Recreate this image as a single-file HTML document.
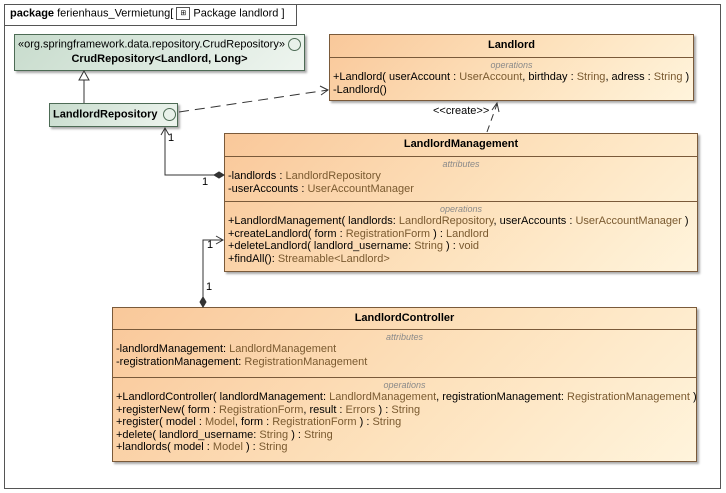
<!DOCTYPE html>
<html><head><style>
body{margin:0;width:726px;height:493px;background:#fff;font-family:"Liberation Sans",sans-serif;font-size:11px;color:#000;position:relative;overflow:hidden}
.abs{position:absolute;box-sizing:border-box}
.cls{background:linear-gradient(135deg,#f9c89a 0%,#fde2bd 55%,#fff4dc 100%);border:1px solid #7a5a3a;box-shadow:2px 2px 2px #aaa}
.grn{background:linear-gradient(135deg,#c8dccd,#eef5ef);border:1px solid #4d6b55;box-shadow:2px 2px 2px #aaa}
.hd{font-weight:bold;text-align:center}
.sec{border-top:1px solid #7a5a3a;padding:2px 3px 0 3px}
.lab{text-align:center;color:#8a8a8a;font-style:italic;font-size:9px;line-height:11px}
.r{line-height:12.6px;white-space:nowrap}
.t{color:#7a5a30}
.circ{display:inline-block;width:11px;height:11px;border:1px solid #4d6b55;border-radius:50%;vertical-align:middle;background:#e8f1ea}
</style></head><body>
<div class="abs" style="left:4px;top:4px;width:717px;height:485px;border:1px solid #555"></div>
<div class="abs" style="left:4px;top:4px;width:293px;height:22px;border:1px solid #555;border-top:none;border-left:none;padding:3px 0 0 6px;white-space:nowrap"><b>package</b> ferienhaus_Vermietung[ <span style="display:inline-block;width:12px;height:11px;border:1px solid #555;vertical-align:middle;font-size:7px;text-align:center;line-height:11px">⊞</span> Package landlord ]</div>

<div class="abs grn" style="left:14px;top:34px;width:291px;height:37px;padding-top:3px;text-align:center;white-space:nowrap">«org.springframework.data.repository.CrudRepository» <span class="circ"></span><br><b style="line-height:16px">CrudRepository&lt;Landlord, Long&gt;</b></div>
<div class="abs grn" style="left:49px;top:103px;width:129px;height:24px;padding:4px 0 0 3px;white-space:nowrap"><b>LandlordRepository</b> <span class="circ" style="margin-left:2px"></span></div>

<div class="abs cls" style="left:329px;top:34px;width:365px;height:67px">
<div class="hd" style="height:22px;line-height:20px">Landlord</div>
<div class="sec"><div class="lab">operations</div>
<div class="r">+Landlord( userAccount : <span class="t">UserAccount</span>, birthday : <span class="t">String</span>, adress : <span class="t">String</span> )</div>
<div class="r">-Landlord()</div></div></div>

<div class="abs cls" style="left:224px;top:133px;width:474px;height:139px">
<div class="hd" style="height:22px;line-height:20px">LandlordManagement</div>
<div class="sec" style="height:42px"><div class="lab">attributes</div>
<div class="r">-landlords : <span class="t">LandlordRepository</span></div>
<div class="r">-userAccounts : <span class="t">UserAccountManager</span></div></div>
<div class="sec"><div class="lab">operations</div>
<div class="r">+LandlordManagement( landlords: <span class="t">LandlordRepository</span>, userAccounts : <span class="t">UserAccountManager</span> )</div>
<div class="r">+createLandlord( form : <span class="t">RegistrationForm</span> ) : <span class="t">Landlord</span></div>
<div class="r">+deleteLandlord( landlord_username: <span class="t">String</span> ) : <span class="t">void</span></div>
<div class="r">+findAll(): <span class="t">Streamable&lt;Landlord&gt;</span></div></div></div>

<div class="abs cls" style="left:112px;top:307px;width:585px;height:155px">
<div class="hd" style="height:21px;line-height:20px">LandlordController</div>
<div class="sec" style="height:45px"><div class="lab">attributes</div>
<div class="r">-landlordManagement: <span class="t">LandlordManagement</span></div>
<div class="r">-registrationManagement: <span class="t">RegistrationManagement</span></div></div>
<div class="sec"><div class="lab">operations</div>
<div class="r">+LandlordController( landlordManagement: <span class="t">LandlordManagement</span>, registrationManagement: <span class="t">RegistrationManagement</span> )</div>
<div class="r">+registerNew( form : <span class="t">RegistrationForm</span>, result : <span class="t">Errors</span> ) : <span class="t">String</span></div>
<div class="r">+register( model : <span class="t">Model</span>, form : <span class="t">RegistrationForm</span> ) : <span class="t">String</span></div>
<div class="r">+delete( landlord_username: <span class="t">String</span> ) : <span class="t">String</span></div>
<div class="r">+landlords( model : <span class="t">Model</span> ) : <span class="t">String</span></div></div></div>

<svg class="abs" style="left:0;top:0" width="726" height="493">
<g stroke="#333" fill="none" stroke-width="1">
<line x1="84" y1="103" x2="84" y2="80"/>
<polygon points="84,71 79,80 89,80" fill="#fff"/>
<line x1="179" y1="112" x2="328" y2="90" stroke-dasharray="10,6"/>
<polyline points="320,86 328,90 321,95"/>
<polyline points="165,128 165,175 214,175"/>
<polygon points="214,175 219,172 224,175 219,178" fill="#333"/>
<polyline points="161,135 165,128 169,135"/>
<line x1="487" y1="132" x2="497" y2="104" stroke-dasharray="7,5"/>
<polyline points="492,110 497,103 499,112"/>
<polyline points="203,297 203,240 223,240"/>
<polyline points="216,236 223,240 216,244"/>
<polygon points="203,297 200,302 203,307 206,302" fill="#333"/>
</g>
<g font-family="Liberation Sans" font-size="11" fill="#000">
<text x="168" y="141">1</text>
<text x="202" y="185">1</text>
<text x="433" y="114">&lt;&lt;create&gt;&gt;</text>
<text x="207" y="248">1</text>
<text x="206" y="290">1</text>
</g>
</svg>
</body></html>
